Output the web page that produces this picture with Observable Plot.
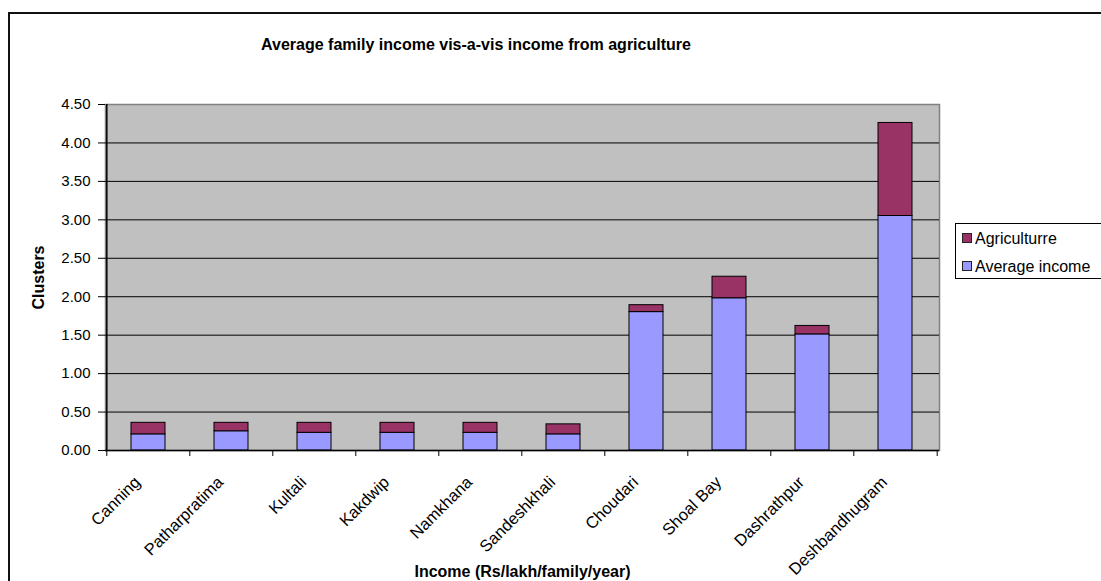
<!DOCTYPE html>
<html>
<head>
<meta charset="utf-8">
<script src="https://cdn.jsdelivr.net/npm/d3@7"></script>
<script src="https://cdn.jsdelivr.net/npm/@observablehq/plot@0.6"></script>
<style>
  html, body { margin: 0; padding: 0; background: #fff; overflow: hidden; }
  #wrap { position: relative; width: 1101px; height: 581px; font-family: "Liberation Sans", Arial, sans-serif; }
  #wrap svg { position: absolute; left: 0; top: 0; }
  .ov { position: absolute; }
  #outer { left: 8px; top: 12px; width: 1200px; height: 700px; border-left: 2px solid #111; border-top: 2px solid #111; }
  #title { left: 0; top: 36px; width: 952px; text-align: center; font-weight: bold; font-size: 16px; color: #000; }
  #legend { left: 955px; top: 223px; width: 160px; height: 56px; border: 1px solid #000; background: #fff; box-sizing: border-box; }
  .li { position: absolute; left: 6px; font-size: 16px; color: #000; white-space: nowrap; line-height: 18px; }
  .sw { display: inline-block; width: 8px; height: 8px; border: 1.5px solid #222; margin-right: 3px; vertical-align: 1px; }
  .axlab text { font-weight: bold; font-size: 16px; }
</style>
</head>
<body>
<div id="wrap">
  <div id="outer" class="ov"></div>
</div>
<script>
const clusters = ["Canning","Patharpratima","Kultali","Kakdwip","Namkhana","Sandeshkhali","Choudari","Shoal Bay","Dashrathpur","Deshbandhugram"];
const avgIncome = [0.21,0.25,0.23,0.23,0.23,0.21,1.80,1.98,1.51,3.05];
const agriculture = [0.15,0.11,0.13,0.13,0.13,0.13,0.09,0.28,0.11,1.21];
const seriesNames = ["Average income","Agriculturre"];
const seriesColors = ["#9999ff","#993366"];
const yTicks = [0,0.5,1,1.5,2,2.5,3,3.5,4,4.5];
const titleText = "Average family income vis-a-vis income from agriculture";
const xTitle = "Income (Rs/lakh/family/year)";
const yTitle = "Clusters";

const rows = [];
clusters.forEach((c, i) => {
  rows.push({cluster: c, series: seriesNames[0], value: avgIncome[i]});
  rows.push({cluster: c, series: seriesNames[1], value: agriculture[i]});
});

const W = 1101, H = 581;
const mL = 105, mR = 162, mT = 104, mB = 131;
const halfStep = (W - mL - mR) / clusters.length / 2;

const chart = Plot.plot({
  width: W, height: H,
  marginLeft: mL, marginRight: mR, marginTop: mT, marginBottom: mB,
  style: {fontFamily: "'Liberation Sans', Arial, sans-serif", fontSize: "15px", color: "#000", background: "transparent", overflow: "visible"},
  x: {type: "band", domain: clusters, paddingInner: 0.59, paddingOuter: 0.295},
  y: {domain: [0, 4.5]},
  color: {domain: seriesNames, range: seriesColors},
  marks: [
    Plot.frame({fill: "#c0c0c0", stroke: "#808080", strokeWidth: 1.5}),
    Plot.ruleY(yTicks.slice(1, -1), {stroke: "#000", strokeWidth: 1}),
    Plot.barY(rows, Plot.stackY({x: "cluster", y: "value", z: "series", fill: "series", order: seriesNames, stroke: "#000", strokeWidth: 1})),
    Plot.ruleY([0], {stroke: "#000", strokeWidth: 1.5}),
    Plot.ruleX([clusters[0]], {y1: 0, y2: 4.5, dx: -halfStep, stroke: "#000", strokeWidth: 1.5}),
    Plot.ruleX(clusters, {y1: 0, y2: 0, insetBottom: -6, dx: -halfStep, stroke: "#000", strokeWidth: 1}),
    Plot.ruleX([clusters[clusters.length - 1]], {y1: 0, y2: 0, insetBottom: -6, dx: halfStep, stroke: "#000", strokeWidth: 1}),
    Plot.axisY({ticks: yTicks, tickFormat: d3.format(".2f"), tickSize: 7, tickPadding: 8, fontSize: 15,
      label: yTitle, labelAnchor: "center", labelOffset: 73, labelArrow: "none"}),
    Plot.axisX({tickSize: 0, tickRotate: -45, tickPadding: 29, fontSize: 16.5, dx: -11,
      label: null}),
    Plot.axisX({tickSize: 0, ticks: [], label: xTitle, labelAnchor: "center", labelOffset: 126, labelArrow: "none"})
  ]
});

const wrap = document.getElementById("wrap");
wrap.insertBefore(chart, wrap.firstChild);
chart.querySelectorAll('[aria-label="y-axis label"], [aria-label="x-axis label"]').forEach(g => g.classList.add("axlab"));

const title = document.createElement("div");
title.id = "title"; title.className = "ov"; title.textContent = titleText;
wrap.appendChild(title);

const legend = document.createElement("div");
legend.id = "legend"; legend.className = "ov";
const legendOrder = [1, 0];
legendOrder.forEach((k, j) => {
  const it = document.createElement("div");
  it.className = "li";
  it.style.top = (6 + j * 28) + "px";
  const sw = document.createElement("span");
  sw.className = "sw"; sw.style.background = seriesColors[k];
  it.appendChild(sw);
  it.appendChild(document.createTextNode(seriesNames[k]));
  legend.appendChild(it);
});
wrap.appendChild(legend);
</script>
</body>
</html>
